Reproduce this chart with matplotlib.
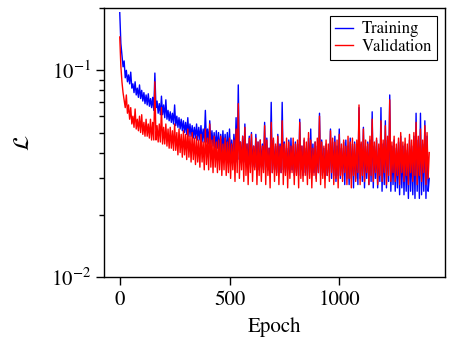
import numpy as np
import matplotlib
matplotlib.use("Agg")
import matplotlib.pyplot as plt

epochs = list(range(0, 1411, 5))
training = [
    0.190, 0.135, 0.118, 0.104, 0.111, 0.092, 0.100, 0.088, 0.095, 0.086,
    0.098, 0.082, 0.086, 0.078, 0.088, 0.076, 0.082, 0.074, 0.085, 0.073,
    0.080, 0.071, 0.078, 0.069, 0.076, 0.068, 0.077, 0.067, 0.073, 0.066,
    0.074, 0.064, 0.097, 0.066, 0.071, 0.062, 0.069, 0.061, 0.075, 0.061,
    0.068, 0.059, 0.072, 0.058, 0.064, 0.057, 0.063, 0.056, 0.062, 0.055,
    0.068, 0.054, 0.060, 0.053, 0.059, 0.052, 0.058, 0.051, 0.057, 0.050,
    0.056, 0.049, 0.059, 0.048, 0.055, 0.048, 0.054, 0.047, 0.053, 0.047,
    0.055, 0.046, 0.053, 0.046, 0.054, 0.045, 0.052, 0.045, 0.064, 0.045,
    0.052, 0.044, 0.057, 0.044, 0.051, 0.043, 0.050, 0.042, 0.051, 0.042,
    0.050, 0.041, 0.049, 0.040, 0.051, 0.040, 0.049, 0.039, 0.050, 0.039,
    0.052, 0.038, 0.046, 0.037, 0.049, 0.037, 0.059, 0.036, 0.085, 0.037,
    0.045, 0.036, 0.048, 0.036, 0.055, 0.035, 0.044, 0.035, 0.048, 0.035,
    0.050, 0.034, 0.043, 0.034, 0.049, 0.035, 0.045, 0.033, 0.046, 0.034,
    0.044, 0.033, 0.056, 0.034, 0.047, 0.033, 0.042, 0.034, 0.070, 0.032,
    0.046, 0.033, 0.043, 0.032, 0.049, 0.034, 0.044, 0.032, 0.070, 0.033,
    0.045, 0.032, 0.042, 0.033, 0.046, 0.032, 0.047, 0.033, 0.043, 0.031,
    0.045, 0.032, 0.044, 0.031, 0.058, 0.033, 0.043, 0.031, 0.046, 0.032,
    0.042, 0.031, 0.047, 0.032, 0.052, 0.031, 0.044, 0.032, 0.045, 0.030,
    0.043, 0.032, 0.062, 0.031, 0.046, 0.032, 0.042, 0.030, 0.044, 0.031,
    0.041, 0.032, 0.052, 0.030, 0.045, 0.031, 0.048, 0.029, 0.043, 0.031,
    0.052, 0.030, 0.042, 0.031, 0.045, 0.028, 0.046, 0.030, 0.043, 0.028,
    0.047, 0.030, 0.044, 0.027, 0.045, 0.030, 0.042, 0.028, 0.066, 0.030,
    0.044, 0.029, 0.053, 0.027, 0.043, 0.030, 0.045, 0.028, 0.046, 0.029,
    0.063, 0.027, 0.043, 0.030, 0.046, 0.027, 0.042, 0.029, 0.066, 0.026,
    0.044, 0.028, 0.057, 0.027, 0.046, 0.029, 0.076, 0.026, 0.043, 0.028,
    0.046, 0.026, 0.042, 0.027, 0.045, 0.025, 0.048, 0.027, 0.043, 0.025,
    0.044, 0.026, 0.041, 0.024, 0.046, 0.026, 0.043, 0.025, 0.048, 0.024,
    0.062, 0.026, 0.046, 0.024, 0.062, 0.025, 0.044, 0.026, 0.057, 0.024,
    0.048, 0.026, 0.030,
]
validation = [
    0.145, 0.105, 0.088, 0.078, 0.072, 0.066, 0.076, 0.062, 0.068, 0.058,
    0.066, 0.055, 0.060, 0.053, 0.065, 0.052, 0.058, 0.051, 0.060, 0.050,
    0.061, 0.049, 0.056, 0.048, 0.058, 0.048, 0.055, 0.047, 0.058, 0.046,
    0.056, 0.046, 0.088, 0.046, 0.054, 0.045, 0.055, 0.045, 0.066, 0.044,
    0.053, 0.044, 0.055, 0.043, 0.052, 0.042, 0.053, 0.042, 0.051, 0.041,
    0.055, 0.041, 0.050, 0.039, 0.052, 0.040, 0.049, 0.038, 0.051, 0.039,
    0.049, 0.037, 0.052, 0.038, 0.048, 0.036, 0.050, 0.037, 0.047, 0.035,
    0.048, 0.036, 0.046, 0.034, 0.049, 0.036, 0.045, 0.033, 0.052, 0.035,
    0.047, 0.033, 0.055, 0.034, 0.046, 0.032, 0.048, 0.034, 0.045, 0.032,
    0.046, 0.033, 0.048, 0.031, 0.044, 0.033, 0.047, 0.031, 0.045, 0.032,
    0.047, 0.030, 0.044, 0.033, 0.046, 0.029, 0.052, 0.032, 0.069, 0.030,
    0.045, 0.033, 0.048, 0.029, 0.053, 0.031, 0.044, 0.028, 0.047, 0.032,
    0.049, 0.029, 0.043, 0.033, 0.047, 0.028, 0.045, 0.031, 0.046, 0.029,
    0.043, 0.032, 0.054, 0.028, 0.046, 0.031, 0.042, 0.027, 0.056, 0.032,
    0.047, 0.029, 0.044, 0.031, 0.048, 0.028, 0.043, 0.032, 0.057, 0.028,
    0.044, 0.031, 0.047, 0.027, 0.045, 0.030, 0.043, 0.032, 0.047, 0.028,
    0.044, 0.031, 0.046, 0.027, 0.056, 0.030, 0.043, 0.029, 0.047, 0.031,
    0.045, 0.028, 0.050, 0.030, 0.046, 0.027, 0.042, 0.031, 0.045, 0.029,
    0.047, 0.032, 0.060, 0.028, 0.045, 0.030, 0.043, 0.027, 0.046, 0.031,
    0.044, 0.029, 0.051, 0.032, 0.047, 0.028, 0.045, 0.030, 0.046, 0.027,
    0.049, 0.031, 0.044, 0.029, 0.046, 0.032, 0.043, 0.028, 0.048, 0.030,
    0.045, 0.027, 0.047, 0.031, 0.044, 0.029, 0.046, 0.032, 0.068, 0.028,
    0.045, 0.031, 0.052, 0.029, 0.046, 0.032, 0.044, 0.028, 0.048, 0.031,
    0.058, 0.029, 0.045, 0.032, 0.047, 0.028, 0.044, 0.031, 0.057, 0.029,
    0.046, 0.032, 0.054, 0.028, 0.048, 0.031, 0.072, 0.029, 0.045, 0.032,
    0.048, 0.029, 0.044, 0.031, 0.047, 0.028, 0.050, 0.032, 0.045, 0.029,
    0.047, 0.031, 0.044, 0.028, 0.049, 0.032, 0.046, 0.029, 0.050, 0.031,
    0.056, 0.028, 0.048, 0.031, 0.052, 0.029, 0.046, 0.032, 0.054, 0.028,
    0.050, 0.030, 0.040,
]

plt.rcParams['font.family'] = ['STIXGeneral', 'DejaVu Serif']
plt.rcParams['mathtext.fontset'] = 'stix'

fig = plt.figure(figsize=(4.5, 3.52), dpi=100)
ax = fig.add_axes([0.231, 0.213, 0.758, 0.764])
ax.plot(epochs, training, color='blue', lw=1.0, label='Training')
ax.plot(epochs, validation, color='red', lw=1.0, label='Validation')
ax.set_yscale('log')
ax.set_ylim(0.01, 0.2)
ax.set_xlim(-72, 1482)
ax.set_xticks([0, 500, 1000])
ax.set_xlabel('Epoch', fontsize=15, labelpad=5)
ax.set_ylabel(r'$\mathcal{L}$', fontsize=16, labelpad=12)
ax.tick_params(which='major', length=6, width=1, labelsize=15)
ax.tick_params(which='minor', length=3.5, width=1)
for s in ax.spines.values():
    s.set_linewidth(1)
leg = ax.legend(loc='upper right', fontsize=12, fancybox=False, edgecolor='black',
                framealpha=1, handlelength=1.1, handletextpad=0.5,
                borderpad=0.3, labelspacing=0.1, borderaxespad=0.5)
leg.get_frame().set_linewidth(0.8)
fig.savefig('out.png', dpi=100)
